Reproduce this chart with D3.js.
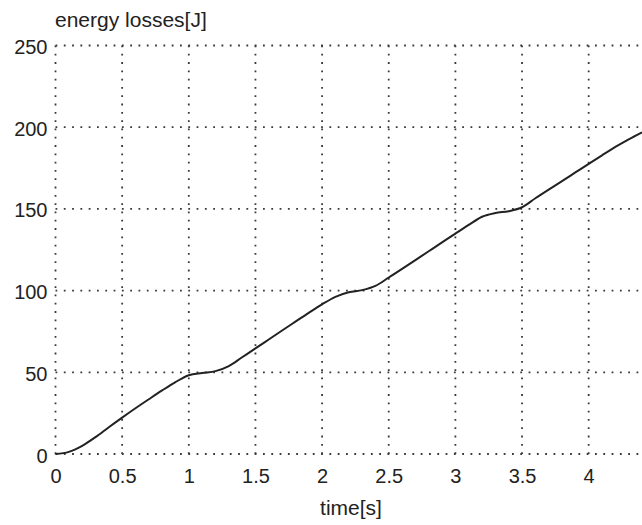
<!DOCTYPE html>
<html>
<head>
<meta charset="utf-8">
<script src="https://cdn.jsdelivr.net/npm/d3@7/dist/d3.min.js"></script>
<style>
  html, body { margin: 0; padding: 0; background: #ffffff; }
  svg { display: block; }
  text { font-family: "Liberation Sans", Arial, Helvetica, sans-serif; fill: #222; }
</style>
</head>
<body>
<svg id="chart" width="642" height="525"></svg>
<script>
// time samples [s]
const time = [0, 0.1, 0.2, 0.3, 0.4, 0.5, 0.6, 0.7, 0.8, 0.9,
              1.0, 1.1, 1.2, 1.3, 1.4, 1.5, 1.6, 1.7, 1.8, 1.9,
              2.0, 2.1, 2.2, 2.3, 2.4, 2.5, 2.6, 2.7, 2.8, 2.9,
              3.0, 3.1, 3.2, 3.3, 3.4, 3.5, 3.6, 3.7, 3.8, 3.9,
              4.0, 4.1, 4.2, 4.3, 4.4];
// cumulative energy losses [J]
const losses = [0, 1.3, 5.0, 10.3, 16.4, 22.3, 28.0, 33.5, 38.9, 44.0,
                48.2, 49.6, 50.7, 53.8, 59.2, 64.6, 70.1, 75.6, 81.0, 86.4,
                91.6, 96.2, 99.0, 100.3, 102.9, 108.0, 113.3, 118.7, 124.1, 129.5,
                134.9, 140.2, 145.2, 147.5, 148.6, 151.0, 156.5, 161.8, 167.0, 172.3,
                177.6, 182.8, 187.9, 192.6, 196.9];

const xTicks = [0, 0.5, 1, 1.5, 2, 2.5, 3, 3.5, 4];
const yTicks = [0, 50, 100, 150, 200, 250];

const svg = d3.select("#chart");

const x = d3.scaleLinear().domain([0, 4.4]).range([55.5, 642]);
const y = d3.scaleLinear().domain([0, 250]).range([454, 45.5]);

// dotted grid
const grid = svg.append("g")
  .attr("stroke", "#3a3a3a")
  .attr("stroke-width", 1.8)
  .attr("stroke-dasharray", "1.8,6.5")
  .attr("fill", "none");

grid.selectAll("line.v").data(xTicks).join("line")
  .attr("class", "v")
  .attr("x1", d => x(d)).attr("x2", d => x(d))
  .attr("y1", y(250)).attr("y2", y(0));

grid.selectAll("line.h").data(yTicks).join("line")
  .attr("class", "h")
  .attr("x1", x(0)).attr("x2", x(4.4))
  .attr("y1", d => y(d)).attr("y2", d => y(d));

// axes (labels only, no domain line)
const xAxis = svg.append("g")
  .attr("transform", `translate(0,${y(0)})`)
  .call(d3.axisBottom(x).tickValues(xTicks).tickSize(0).tickPadding(23)
        .tickFormat(d3.format("")));
xAxis.select(".domain").remove();
xAxis.selectAll("text")
  .attr("font-size", 20)
  .attr("fill", "#222")
  .attr("dy", "0.3em")
  .style("font-family", "'Liberation Sans', Arial, sans-serif");

const yAxis = svg.append("g")
  .attr("transform", `translate(${x(0)},0)`)
  .call(d3.axisLeft(y).tickValues(yTicks).tickSize(0).tickPadding(8)
        .tickFormat(d3.format("")));
yAxis.select(".domain").remove();
yAxis.selectAll("text")
  .attr("font-size", 20)
  .attr("fill", "#222")
  .attr("dy", "0.4em")
  .style("font-family", "'Liberation Sans', Arial, sans-serif");

// energy curve
const line = d3.line()
  .x((d, i) => x(time[i]))
  .y(d => y(d))
  .curve(d3.curveMonotoneX);

svg.append("path")
  .datum(losses)
  .attr("fill", "none")
  .attr("stroke", "#222")
  .attr("stroke-width", 2)
  .attr("d", line);

// titles
svg.append("text")
  .attr("x", 55)
  .attr("y", 27)
  .attr("font-size", 21)
  .text("energy losses[J]");

svg.append("text")
  .attr("x", 351)
  .attr("y", 515)
  .attr("text-anchor", "middle")
  .attr("font-size", 21)
  .text("time[s]");
</script>
</body>
</html>
